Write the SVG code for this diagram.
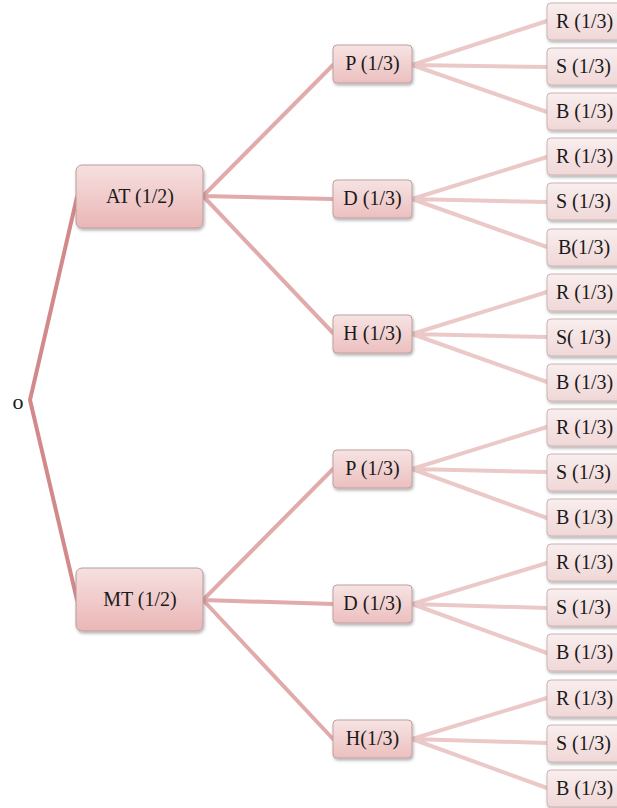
<svg xmlns="http://www.w3.org/2000/svg" width="617" height="808" viewBox="0 0 617 808">
<style>
text{font-family:"Liberation Serif","DejaVu Serif",serif;font-size:20px;fill:#1a1a1a}
.mid text,.top text{text-anchor:middle}
.c0{stroke:#d3898a;stroke-width:4;fill:none;stroke-linecap:round}
.c1{stroke:#e1abab;stroke-width:4;fill:none;stroke-linecap:round}
.c2{stroke:#ecc9c9;stroke-width:4;fill:none;stroke-linecap:round}
.bt{fill:url(#gT);stroke:#b99c9c;stroke-width:1;filter:url(#sh)}
.bm{fill:url(#gM);stroke:#bfa0a0;stroke-width:1;filter:url(#sh)}
.bl{fill:url(#gL);stroke:#cdb3b3;stroke-width:1;filter:url(#sh)}
</style>
<defs>
<linearGradient id="gT" x1="0" y1="0" x2="0" y2="1"><stop offset="0" stop-color="#f6e0e0"/><stop offset="1" stop-color="#ebb6b6"/></linearGradient>
<linearGradient id="gM" x1="0" y1="0" x2="0" y2="1"><stop offset="0" stop-color="#f7e3e3"/><stop offset="1" stop-color="#ecbfbf"/></linearGradient>
<linearGradient id="gL" x1="0" y1="0" x2="0" y2="1"><stop offset="0" stop-color="#f9eeee"/><stop offset="1" stop-color="#f0d7d7"/></linearGradient>
<filter id="sh" x="-20%" y="-20%" width="140%" height="150%"><feDropShadow dx="1" dy="2" stdDeviation="1.5" flood-color="#000" flood-opacity="0.3"/></filter>
</defs>
<g id="connectors">
<path class="c0" d="M77,197 L30,400 L77,600"/>
<path class="c1" d="M203,196 L333,65 M203,196 L333,199 M203,196 L333,333"/>
<path class="c1" d="M203,600 L333,469 M203,600 L333,604 M203,600 L333,739"/>
<path class="c2" d="M412,65 L547,21 M412,65 L547,67 M412,65 L547,112"/>
<path class="c2" d="M412,199 L547,157 M412,199 L547,202 M412,199 L547,247"/>
<path class="c2" d="M412,334 L547,292 M412,334 L547,337 M412,334 L547,382"/>
<path class="c2" d="M412,469 L547,427 M412,469 L547,472 M412,469 L547,518"/>
<path class="c2" d="M412,604 L547,563 M412,604 L547,608 M412,604 L547,653"/>
<path class="c2" d="M412,739 L547,698 M412,739 L547,743 M412,739 L547,788"/>
</g>
<g id="root"><text x="18" y="409" style="text-anchor:middle;font-size:22px">o</text></g>
<g id="AT" class="top"><rect class="bt" x="76" y="165" width="127" height="63" rx="6"/><text x="140" y="203">AT (1/2)</text></g>
<g id="MT" class="top"><rect class="bt" x="76" y="568" width="127" height="63" rx="6"/><text x="140" y="606">MT (1/2)</text></g>
<g id="P1" class="mid"><rect class="bm" x="333" y="45" width="79" height="38" rx="4"/><text x="372.5" y="70">P (1/3)</text></g>
<g id="D1" class="mid"><rect class="bm" x="333" y="180" width="79" height="38" rx="4"/><text x="372.5" y="205">D (1/3)</text></g>
<g id="H1" class="mid"><rect class="bm" x="333" y="315" width="79" height="38" rx="4"/><text x="372.5" y="340">H (1/3)</text></g>
<g id="P2" class="mid"><rect class="bm" x="333" y="450" width="79" height="38" rx="4"/><text x="372.5" y="475">P (1/3)</text></g>
<g id="D2" class="mid"><rect class="bm" x="333" y="585" width="79" height="38" rx="4"/><text x="372.5" y="610">D (1/3)</text></g>
<g id="H2" class="mid"><rect class="bm" x="333" y="720" width="79" height="38" rx="4"/><text x="372.5" y="745">H(1/3)</text></g>
<g id="L1"><rect class="bl" x="547" y="3" width="76" height="37" rx="4"/><text x="556" y="28">R (1/3)</text></g>
<g id="L2"><rect class="bl" x="547" y="48" width="76" height="37" rx="4"/><text x="556" y="73">S (1/3)</text></g>
<g id="L3"><rect class="bl" x="547" y="93" width="76" height="37" rx="4"/><text x="556" y="118">B (1/3)</text></g>
<g id="L4"><rect class="bl" x="547" y="138" width="76" height="37" rx="4"/><text x="556" y="163">R (1/3)</text></g>
<g id="L5"><rect class="bl" x="547" y="183" width="76" height="37" rx="4"/><text x="556" y="208">S (1/3)</text></g>
<g id="L6"><rect class="bl" x="547" y="229" width="76" height="37" rx="4"/><text x="558" y="254">B(1/3)</text></g>
<g id="L7"><rect class="bl" x="547" y="274" width="76" height="37" rx="4"/><text x="556" y="299">R (1/3)</text></g>
<g id="L8"><rect class="bl" x="547" y="319" width="76" height="37" rx="4"/><text x="556" y="344">S( 1/3)</text></g>
<g id="L9"><rect class="bl" x="547" y="364" width="76" height="37" rx="4"/><text x="556" y="389">B (1/3)</text></g>
<g id="L10"><rect class="bl" x="547" y="409" width="76" height="37" rx="4"/><text x="556" y="434">R (1/3)</text></g>
<g id="L11"><rect class="bl" x="547" y="454" width="76" height="37" rx="4"/><text x="556" y="479">S (1/3)</text></g>
<g id="L12"><rect class="bl" x="547" y="499" width="76" height="37" rx="4"/><text x="556" y="524">B (1/3)</text></g>
<g id="L13"><rect class="bl" x="547" y="544" width="76" height="37" rx="4"/><text x="556" y="569">R (1/3)</text></g>
<g id="L14"><rect class="bl" x="547" y="589" width="76" height="37" rx="4"/><text x="556" y="614">S (1/3)</text></g>
<g id="L15"><rect class="bl" x="547" y="634" width="76" height="37" rx="4"/><text x="556" y="659">B (1/3)</text></g>
<g id="L16"><rect class="bl" x="547" y="680" width="76" height="37" rx="4"/><text x="556" y="705">R (1/3)</text></g>
<g id="L17"><rect class="bl" x="547" y="725" width="76" height="37" rx="4"/><text x="556" y="750">S (1/3)</text></g>
<g id="L18"><rect class="bl" x="547" y="770" width="76" height="37" rx="4"/><text x="556" y="795">B (1/3)</text></g>
</svg>
